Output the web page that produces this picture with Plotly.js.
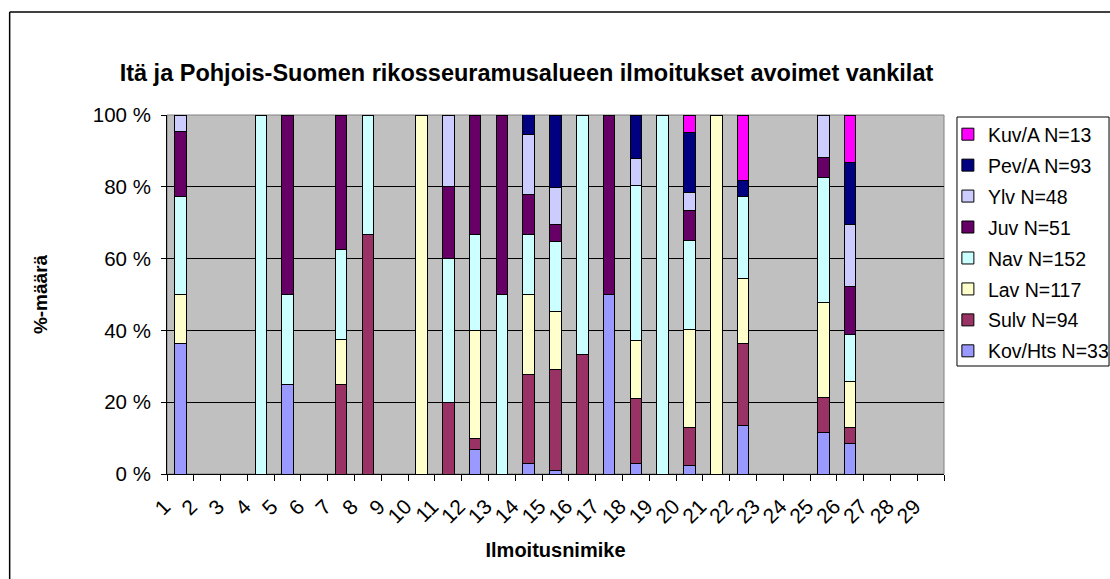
<!DOCTYPE html>
<html>
<head>
<meta charset="utf-8">
<script src="https://cdn.plot.ly/plotly-3.0.1.min.js"></script>
<style>html,body{margin:0;padding:0;background:#fff;}#chart{width:1110px;height:579px;}</style>
</head>
<body>
<div id="chart"></div>
<script>
// Categories (Ilmoitusnimike 1..29)
const categories = ["1","2","3","4","5","6","7","8","9","10","11","12","13","14","15","16","17","18","19","20","21","22","23","24","25","26","27","28","29"];

// Percent shares per category (null = no bar)
//                1     2    3    4    5     6    7     8     9    10   11    12    13   14    15    16    17   18    19   20    21   22    23   24   25    26    27   28   29
const kovHts = [36.4, null,null,null,25,   null,null, null, null,null,null, 6.7, null, 2.8,  1.1, null, 50,  2.8, null, 2.4, null,13.6, null,null,11.6, 8.5, null,null,null];
const sulv   = [null, null,null,null,null, null,25,   66.7, null,null,20,   3.3, null, 25,   28.1, 33.3, null,18.1, null,10.5, null,22.7, null,null, 9.7, 4.4, null,null,null];
const lav    = [13.6, null,null,null,null, null,12.5, null, null,100, null, 30,   null, 22.2, 16.2, null, null,16.3, null,27.4, 100, 18.2, null,null,26.6, 13.0,null,null,null];
const nav    = [27.3, null,null,100, 25,   null,25,   33.3, null,null,40,   26.7, 50,   16.7, 19.3, 66.7, null,43.1, 100, 24.8, null,22.7, null,null,34.8, 13.0,null,null,null];
const juv    = [18.2, null,null,null,50,   null,37.5, null, null,null,20,   33.3, 50,   11.1, 4.8,  null, 50,  null, null, 8.3, null,null, null,null, 5.5, 13.3,null,null,null];
const ylv    = [4.5,  null,null,null,null, null,null, null, null,null,20,   null, null, 16.7, 10.4, null, null, 7.6, null, 5.1, null,null, null,null,11.8, 17.3,null,null,null];
const pevA   = [null, null,null,null,null, null,null, null, null,null,null, null, null, 5.6,  20.1, null, null,12.1, null,16.7, null, 4.5, null,null,null, 17.4,null,null,null];
const kuvA   = [null, null,null,null,null, null,null, null, null,null,null, null, null, null, null, null, null,null, null, 4.8, null,18.2, null,null,null, 13.1,null,null,null];

const seriesNames = ["Kov/Hts N=33","Sulv N=94","Lav N=117","Nav N=152","Juv N=51","Ylv N=48","Pev/A N=93","Kuv/A N=13"];
const seriesValues = [kovHts, sulv, lav, nav, juv, ylv, pevA, kuvA];
const seriesColors = ["#9999FF","#993366","#FFFFCC","#CCFFFF","#660066","#CCCCFF","#000080","#FF00FF"];

const FONT = "Arial, 'Liberation Sans', sans-serif";

const traces = seriesNames.map((name, i) => ({
  type: "bar",
  name: name,
  x: categories,
  y: seriesValues[i],
  width: 0.43,
  marker: {color: seriesColors[i], line: {color: "#000000", width: 1}},
  legendgroup: "g" + i,
  legendrank: 100 - i,
  hoverinfo: "x+y+name"
}));

const layout = {
  width: 1110,
  height: 579,
  margin: {l: 167, r: 166, t: 115, b: 105, autoexpand: false},
  paper_bgcolor: "#FFFFFF",
  plot_bgcolor: "#C0C0C0",
  barmode: "stack",
  font: {family: FONT, color: "#000000", size: 20},
  title: {
    text: "Itä ja Pohjois-Suomen rikosseuramusalueen ilmoitukset avoimet vankilat",
    font: {family: FONT, size: 23.5, color: "#000000", weight: "bold"},
    x: 0.4743, xanchor: "center", xref: "container",
    y: 0.875, yanchor: "middle", yref: "container"
  },
  xaxis: {
    type: "category",
    categoryorder: "array",
    categoryarray: categories,
    showline: true, linecolor: "#000000", linewidth: 1,
    ticks: "outside", ticklen: 6, tickcolor: "#000000", tickwidth: 1,
    tickson: "boundaries",
    tickangle: -45,
    ticklabelshift: -16,
    ticklabelstandoff: 11,
    tickfont: {family: FONT, size: 21},
    showgrid: false,
    zeroline: false,
    automargin: false,
    title: {text: "Ilmoitusnimike", font: {family: FONT, size: 20, weight: "bold"}, standoff: 16}
  },
  yaxis: {
    range: [0, 100],
    tickmode: "linear", tick0: 0, dtick: 20,
    ticksuffix: " %",
    showline: true, linecolor: "#000000", linewidth: 1,
    ticks: "outside", ticklen: 5, tickcolor: "#000000",
    ticklabelstandoff: 6,
    tickfont: {family: FONT, size: 20.5},
    showgrid: true, gridcolor: "#000000", gridwidth: 1,
    zeroline: false,
    automargin: false,
    title: {text: "%-määrä", font: {family: FONT, size: 19, weight: "bold"}, standoff: 40}
  },
  legend: {
    x: 1.005, xanchor: "left",
    y: 1.0, yanchor: "top",
    traceorder: "grouped",
    tracegroupgap: 2.6,
    borderwidth: 0,
    bgcolor: "rgba(255,255,255,0)",
    font: {family: FONT, size: 19.5},
    itemwidth: 30
  },
  shapes: [
    {type: "rect", xref: "paper", yref: "paper", x0: 0, x1: 1, y0: 0, y1: 1,
     line: {color: "#808080", width: 1}, fillcolor: "rgba(0,0,0,0)", layer: "below"},
    {type: "rect", xref: "paper", yref: "paper", x0: 1.0167, x1: 1.2124, y0: 0.3008, y1: 0.9944,
     line: {color: "#000000", width: 1}, fillcolor: "rgba(0,0,0,0)", layer: "above"},
    {type: "line", xref: "paper", yref: "paper", x0: -0.2025, x1: -0.2025, y0: -0.3, y1: 1.2869,
     line: {color: "#000000", width: 1.5}},
    {type: "line", xref: "paper", yref: "paper", x0: -0.2025, x1: 1.3, y0: 1.2869, y1: 1.2869,
     line: {color: "#000000", width: 1.5}}
  ],
  showlegend: true
};

Plotly.newPlot("chart", traces, layout, {displayModeBar: false, staticPlot: true});
</script>
</body>
</html>
